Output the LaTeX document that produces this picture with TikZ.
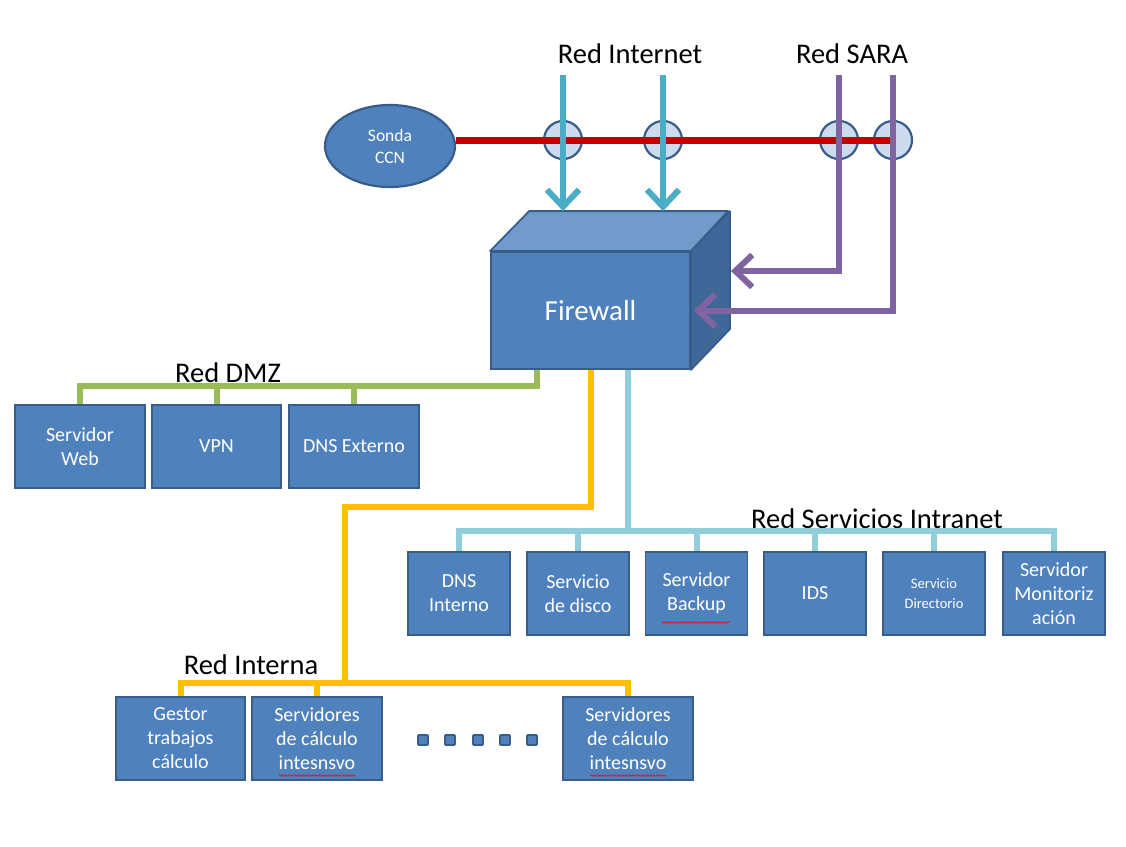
\documentclass[tikz,border=0pt]{standalone}
\usepackage{fontspec}
\setmainfont{Carlito}
\usetikzlibrary{arrows.meta,shapes.geometric,calc,decorations.pathmorphing}
\definecolor{boxfill}{HTML}{4F81BD}
\definecolor{boxline}{HTML}{385D8A}
\definecolor{topface}{HTML}{729BCB}
\definecolor{sideface}{HTML}{3F6898}
\definecolor{tapfill}{HTML}{C6D4EB}
\definecolor{inetcol}{HTML}{4BACC6}
\definecolor{saracol}{HTML}{8064A2}
\definecolor{probecol}{HTML}{C00000}
\definecolor{dmzcol}{HTML}{9BBB59}
\definecolor{intcol}{HTML}{FFC000}
\definecolor{intracol}{HTML}{92CDDC}
\begin{document}
\begin{tikzpicture}[x=1pt,y=-1pt,
  srvbox/.style={draw=boxline, line width=1.8pt, fill=boxfill, text=white, align=center,
    font=\fontsize{20}{24}\selectfont, inner sep=0pt, minimum height=83pt},
  netlabel/.style={font=\fontsize{28.5}{32}\selectfont, inner sep=0pt},
  tap/.style={circle, draw=boxline, line width=2.2pt, fill=tapfill, fill opacity=0.85, minimum size=38pt, inner sep=0pt},
  bus/.style={line width=6pt},
  dmzline/.style={bus, draw=dmzcol},
  intline/.style={bus, draw=intcol},
  intraline/.style={bus, draw=intracol},
  inetarrow/.style={bus, draw=inetcol, -{Straight Barb[length=17pt,width=32pt]}},
  saraarrow/.style={bus, draw=saracol, -{Straight Barb[length=17pt,width=32pt]}},
  probeline/.style={line width=7pt, draw=probecol},
  dotbox/.style={draw=boxline, line width=1.8pt, fill=boxfill, minimum size=10pt, inner sep=0pt, rounded corners=1pt},
  squig/.style={draw=red, line width=0.6pt, decorate, decoration={snake, amplitude=0.8pt, segment length=3pt}}
]
\useasboundingbox (0,0) rectangle (1126,846);

% ---------------- labels
\node[netlabel] (lblinet) at (630,54) {Red Internet};
\node[netlabel] (lblsara) at (852,54) {Red SARA};
\node[netlabel] (lbldmz) at (228,373) {Red DMZ};
\node[netlabel] (lblintra) at (877,519) {Red Servicios Intranet};
\node[netlabel] (lblint) at (251,665) {Red Interna};

% ---------------- probe
\node[ellipse, draw=boxline, line width=2.2pt, fill=boxfill, text=white, align=center,
  minimum width=130pt, minimum height=82pt, inner sep=0pt,
  font=\fontsize{17.5}{22}\selectfont] (sonda) at (390,146) {Sonda\\CCN};
\coordinate (c1) at (563,140);
\coordinate (c2) at (663,140);
\coordinate (c3) at (839,140);
\coordinate (c4) at (893,140);
\node[tap] (t1) at (c1) {};
\node[tap] (t2) at (c2) {};
\node[tap] (t3) at (c3) {};
\node[tap] (t4) at (c4) {};
\draw[probeline] (sonda.east |- c1) -- (c4);

% ---------------- firewall cube
\node[draw=boxline, line width=1.8pt, fill=boxfill, text=white, minimum width=199pt, minimum height=117pt,
  inner sep=0pt, font=\fontsize{29}{32}\selectfont] (fw) at (590.5,310.5) {Firewall};
\draw[boxline, line width=1.8pt, fill=topface, line join=round]
  (fw.north west) -- ++(39,-40) -- ++(199,0) -- (fw.north east) -- cycle;
\draw[boxline, line width=1.8pt, fill=sideface, line join=round]
  (fw.north east) -- ++(39,-40) -- ++(0,118) -- (fw.south east) -- cycle;

% ---------------- internet / SARA arrows
\coordinate (i1) at (563,75);
\coordinate (i2) at (663,75);
\coordinate (s1) at (839,75);
\coordinate (s2) at (893,75);
\draw[inetarrow] (i1) -- ($(fw.north)+(-27.5,-40)$);
\draw[inetarrow] (i2) -- ($(fw.north)+(72.5,-40)$);
\draw[saraarrow, line join=miter] (s1) |- ($(fw.east)+(40,-39.5)$);
\draw[saraarrow, line join=miter] (s2) |- ($(fw.east)+(3,0)$);

% ---------------- DMZ
\node[srvbox, minimum width=130pt] (web) at (80,446.5) {Servidor\\Web};
\node[srvbox, minimum width=129pt] (vpn) at (216.5,446.5) {VPN};
\node[srvbox, minimum width=130pt] (dnsext) at (354,446.5) {DNS Externo};
\draw[dmzline] ($(fw.south)+(-53.5,0)$) |- ($(web.north)+(0,-18)$) -- (web.north);
\draw[dmzline] (vpn.north) -- ++(0,-18);
\draw[dmzline] (dnsext.north) -- ++(0,-18);

% ---------------- Intranet services
\node[srvbox, minimum width=102pt] (dnsint) at (459,593.5) {DNS\\Interno};
\node[srvbox, minimum width=102pt] (disco) at (578,593.5) {Servicio\\de disco};
\node[srvbox, minimum width=102pt] (backup) at (696.5,593.5) {Servidor\\Backup};
\node[srvbox, minimum width=102pt] (ids) at (815,593.5) {IDS};
\node[srvbox, minimum width=102pt, font=\fontsize{14.5}{20}\selectfont] (dir) at (934,593.5) {Servicio\\Directorio};
\node[srvbox, minimum width=102pt] (monit) at (1054,593.5) {Servidor\\Monitoriz\\ación};
\coordinate (sbus) at (628,531);
\draw[intraline] (fw.south -| sbus) -- (sbus);
\draw[intraline, line join=miter] (dnsint.north) |- (monit.north |- sbus) -- (monit.north);
\foreach \n in {disco,backup,ids,dir} \draw[intraline] (\n.north) -- (\n.north |- sbus);

% ---------------- Internal network
\node[srvbox, minimum width=129pt] (gestor) at (180.5,738.5) {Gestor\\trabajos\\cálculo};
\node[srvbox, minimum width=130pt] (calc1) at (317,738.5) {Servidores\\de cálculo\\intesnsvo};
\node[srvbox, minimum width=130pt] (calc2) at (628,738.5) {Servidores\\de cálculo\\intesnsvo};
\coordinate (ibend) at (345,507);
\coordinate (ibus) at (345,683);
\draw[intline, line join=miter] (fw.south) |- (ibend) -- (ibus);
\draw[intline, line join=miter] (gestor.north) |- (calc2.north |- ibus) -- (calc2.north);
\draw[intline] (calc1.north) -- (calc1.north |- ibus);
\foreach \i/\x in {1/423,2/450,3/478,4/505,5/532} \node[dotbox] (dot\i) at (\x,740) {};

% ---------------- spell-check marks
\draw[squig] ($(backup.center)+(-35,29)$) -- ++(68,0);
\draw[squig] ($(calc1.center)+(-38,37)$) -- ++(76,0);
\draw[squig] ($(calc2.center)+(-38,37)$) -- ++(76,0);
\end{tikzpicture}
\end{document}
